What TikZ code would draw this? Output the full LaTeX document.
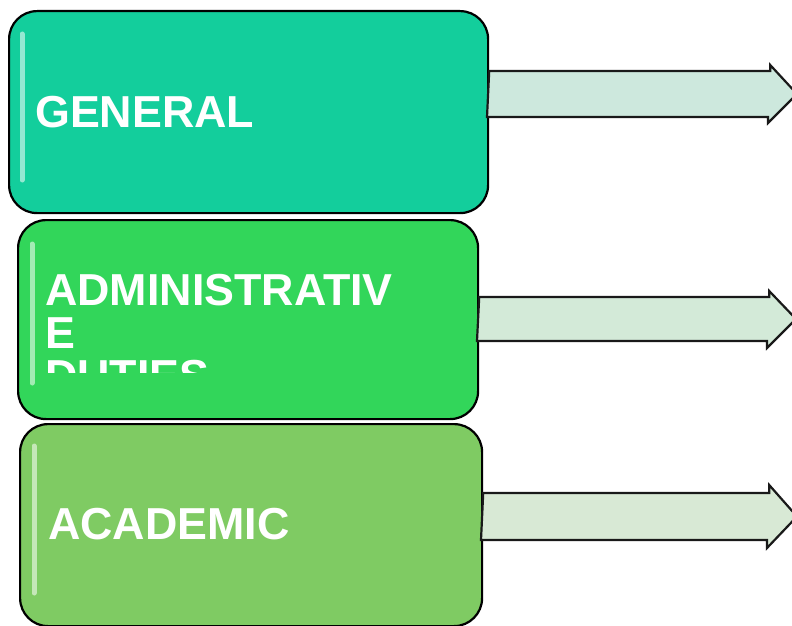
\documentclass[tikz,border=0pt]{standalone}
\usepackage{fontspec}
\setmainfont{Liberation Sans}
\usetikzlibrary{positioning}

\definecolor{generalgreen}{RGB}{19,206,156}
\definecolor{dutygreen}{RGB}{50,214,90}
\definecolor{academicgreen}{RGB}{127,203,99}
\definecolor{arrowone}{RGB}{205,232,221}
\definecolor{arrowtwo}{RGB}{211,234,216}
\definecolor{arrowthree}{RGB}{216,233,213}

\begin{document}
\begin{tikzpicture}[x=1pt,y=-1pt,
  main_box/.style={rectangle,draw=black,line width=2.2pt,rounded corners=28pt,inner sep=0pt,anchor=north west},
  box_text/.style={text=white,font=\fontsize{44.8}{43}\selectfont\bfseries,inner sep=0pt,anchor=base west},
  arrow_shape/.style={draw=black!90,line width=2.2pt,line join=miter},
  shine/.style={white,opacity=0.55,line width=5pt,line cap=round}]
  \useasboundingbox (0,0) rectangle (792,626);
  \clip (0,0) rectangle (792,626);
  % boxes
  \node[main_box,fill=generalgreen,minimum width=479pt,minimum height=202pt] (general) at (8,10) {};
  \node[main_box,fill=dutygreen,minimum width=460pt,minimum height=199pt] (duties) at (17,219) {};
  \node[main_box,fill=academicgreen,minimum width=462pt,minimum height=202pt] (academic) at (19,423) {};
  \draw[shine] (22,34) -- (22,180);
  \draw[shine] (32,244) -- (32,383);
  \draw[shine] (34,446) -- (34,593);
  % labels
  \node[box_text] (t1) at (35,127) {GENERAL};
  \node[box_text] (t2) at (45,305) {ADMINISTRATIV};
  \node[box_text] (t3) at (45,348) {E};
  \begin{scope}
    \clip (0,200) rectangle (792,372);
    \node[box_text] (t4) at (45,391) {DUTIES};
  \end{scope}
  \node[box_text] (t5) at (48,539) {ACADEMIC};
  % arrows
  \coordinate (general_tip) at (797,94);
  \coordinate (duties_tip) at (796,319);
  \coordinate (academic_tip) at (797,516.5);
  \draw[arrow_shape,fill=arrowone] (general.east |- general_tip) ++(0,-23) -- ++(281,0) -- ++(0,-6)
    -- (general_tip) -- ++(-29,29) -- ++(0,-6) -- ++(-281,0) -- cycle;
  \draw[arrow_shape,fill=arrowtwo] (duties.east |- duties_tip) ++(0,-22) -- ++(290,0) -- ++(0,-6)
    -- (duties_tip) -- ++(-29,29) -- ++(0,-7) -- ++(-290,0) -- cycle;
  \draw[arrow_shape,fill=arrowthree] (academic.east |- academic_tip) ++(0,-23.5) -- ++(286,0) -- ++(0,-8)
    -- (academic_tip) -- ++(-30,31.5) -- ++(0,-8) -- ++(-286,0) -- cycle;
\end{tikzpicture}
\end{document}
